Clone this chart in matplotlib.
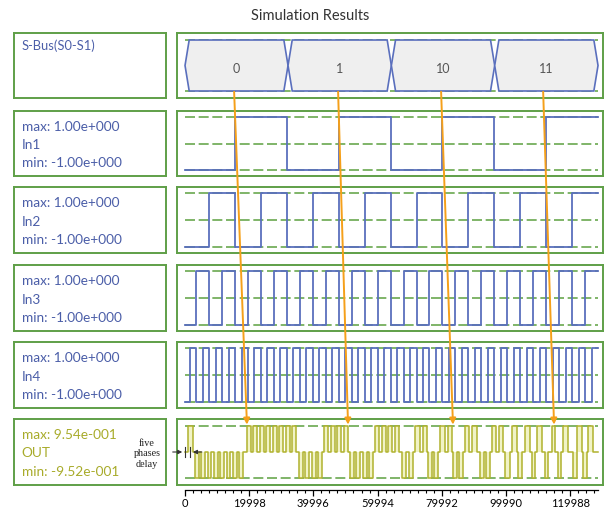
import matplotlib
matplotlib.use("Agg")
import matplotlib.pyplot as plt
from matplotlib.patches import Polygon, ConnectionPatch

# ---------------- data ----------------
title = "Simulation Results"
sbus_name = "S-Bus(S0-S1)"
sbus_values = ["0", "1", "10", "11"]
sbus_edges = [0, 32100, 64300, 96500, 128700]

in_names = ["In1", "In2", "In3", "In4"]
in_max = [1.00, 1.00, 1.00, 1.00]
in_min = [-1.00, -1.00, -1.00, -1.00]
in_half_periods = [16160, 8080, 4040, 2020]
in_phase = -580
t_end = 128700

out_name = "OUT"
out_max = 0.954
out_min = -0.952
out_top_groups = [(900, 2500), (19300, 34600), (43300, 50800), (59200, 66700),
                  (71700, 75400), (79500, 83200), (87200, 91000), (95700, 99100),
                  (101900, 103500), (105900, 107500), (109700, 111200),
                  (114400, 115300), (117800, 119300), (122100, 123700),
                  (125600, 127100)]
out_bottom_groups = [(3100, 18100), (35500, 42700), (51400, 58600),
                     (67600, 71000), (75700, 78800), (83500, 86600),
                     (91900, 95000), (99700, 101300), (103800, 105000),
                     (108100, 109100), (112200, 113100), (116200, 117200),
                     (120900, 122100), (124000, 125300)]
out_pulse_period = 1900
out_pulse_duty = 0.6

tick_values = [0, 19998, 39996, 59994, 79992, 99990, 119988]
tick_labels = ["0", "19998", "39996", "59994", "79992", "99990", "119988"]
minor_per_major = 8

arrow_from_t = [15300, 47700, 79800, 111600]
arrow_to_t = [19300, 50800, 83500, 115000]
delay_marks_t = [0, 1600]
delay_text = "five\nphases\ndelay"

# ---------------- layout ----------------
W, H = 605, 511
XMIN, XMAX = -2500, 130250
GREEN = "#5f9f47"
DGREEN = "#6aa84f"
BLUE = "#5a6fbd"
TBLUE = "#4b5ea8"
OLIVE = "#b0b22e"
TOLIVE = "#a8ab2a"
ORANGE = "#f5a01a"
FONT = "Lato"
LFS = 9.8

rows = [(33, 98), (111, 176), (187, 253), (265, 331), (342, 408), (419, 485)]
LBX = (14, 166)
PBX = (177, 603)


def rect(x0, y0, x1, y1):
    return [x0 / W, 1 - y1 / H, (x1 - x0) / W, (y1 - y0) / H]


def fmt(v):
    m, e = f"{v:.2e}".split("e")
    return f"{m}e{e[0]}{int(e[1:]):03d}"


def boxify(ax):
    ax.set_xticks([])
    ax.set_yticks([])
    for s in ax.spines.values():
        s.set_color(GREEN)
        s.set_linewidth(1.4)


fig = plt.figure(figsize=(W / 100, H / 100), dpi=100)
fig.text(310 / W, 1 - 16 / H, title, ha="center", va="center",
         fontsize=10.5, color="#333333", family=FONT)

label_axes = []
plot_axes = []
for (y0, y1) in rows:
    la = fig.add_axes(rect(LBX[0], y0, LBX[1], y1))
    boxify(la)
    la.set_xlim(0, 1)
    la.set_ylim(0, 1)
    pa = fig.add_axes(rect(PBX[0], y0, PBX[1], y1))
    boxify(pa)
    pa.set_xlim(XMIN, XMAX)
    label_axes.append(la)
    plot_axes.append(pa)

# ---- S-Bus ----
la, pa = label_axes[0], plot_axes[0]
la.text(0.05, 0.8, sbus_name, color=TBLUE, fontsize=9.3, family=FONT,
        ha="left", va="center")
pa.set_ylim(-1.275, 1.275)
for lvl in (1, -1):
    pa.plot([0, t_end], [lvl, lvl], color=DGREEN, lw=1.2, ls=(0, (6, 2.2)), zorder=1)
s = 1300
for i, v in enumerate(sbus_values):
    a, b = sbus_edges[i], sbus_edges[i + 1]
    poly = Polygon([(a, 0), (a + s, 1), (b - s, 1), (b, 0), (b - s, -1), (a + s, -1)],
                   closed=True, facecolor="#efefef", edgecolor=BLUE, lw=1.2, zorder=2)
    pa.add_patch(poly)
    pa.text((a + b) / 2, -0.15, v, ha="center", va="center", fontsize=9,
            color="#555555", family=FONT, zorder=3)

# ---- inputs ----
for k in range(4):
    la, pa = label_axes[k + 1], plot_axes[k + 1]
    la.text(0.05, 0.76, "max: " + fmt(in_max[k]), color=TBLUE, fontsize=LFS,
            family=FONT, ha="left", va="center")
    la.text(0.05, 0.47, in_names[k], color=TBLUE, fontsize=LFS,
            family=FONT, ha="left", va="center")
    la.text(0.05, 0.2, "min: " + fmt(in_min[k]), color=TBLUE, fontsize=LFS,
            family=FONT, ha="left", va="center")
    pa.set_ylim(-1.226, 1.226)
    for lvl in (in_max[k], 0, in_min[k]):
        pa.plot([0, t_end], [lvl, lvl], color=DGREEN, lw=1.2, ls=(0, (6, 2.2)), zorder=1)
    hp = in_half_periods[k]
    times = [0]
    levels = [in_min[k]]
    t = in_phase + hp
    lvl = in_max[k]
    while t < t_end:
        times.append(t)
        levels.append(lvl)
        lvl = in_min[k] if lvl == in_max[k] else in_max[k]
        t += hp
    times.append(t_end)
    levels.append(levels[-1])
    pa.plot(times, levels, drawstyle="steps-post", color=BLUE, lw=1.3, zorder=2)

# ---- OUT ----
la, pa = label_axes[5], plot_axes[5]
la.text(0.05, 0.76, "max: " + fmt(out_max), color=TOLIVE, fontsize=LFS,
        family=FONT, ha="left", va="center")
la.text(0.05, 0.48, out_name, color=TOLIVE, fontsize=LFS,
        family=FONT, ha="left", va="center")
la.text(0.05, 0.2, "min: " + fmt(out_min), color=TOLIVE, fontsize=LFS,
        family=FONT, ha="left", va="center")
pa.set_ylim(-1.21, 1.21)
for lvl in (out_max, out_min):
    pa.plot([0, t_end], [lvl, lvl], color=DGREEN, lw=1.2, ls=(0, (6, 2.2)), zorder=1)

groups = [(a, b, out_max) for a, b in out_top_groups] + \
         [(a, b, out_min) for a, b in out_bottom_groups]
groups.sort()
times = [0]
levels = [0.0]
for a, b, lv in groups:
    n = max(1, int(round((b - a) / out_pulse_period)))
    if n == 1:
        times += [a, b]
        levels += [lv, 0.0]
    else:
        P = (b - a) / (n - 1 + out_pulse_duty)
        for i in range(n):
            ts = a + i * P
            times += [ts, ts + out_pulse_duty * P]
            levels += [lv, 0.0]
times.append(t_end)
levels.append(0.0)
pa.fill_between(times, 0, levels, step="post", color="#f1f3c6", lw=0, zorder=1.5)
pa.plot(times, levels, drawstyle="steps-post", color=OLIVE, lw=1.1, zorder=2)

# delay marker
for tm in delay_marks_t:
    pa.plot([tm, tm], [-0.2, 0.2], color="#333333", lw=0.8, zorder=4, clip_on=False)
pa.annotate("", xy=(delay_marks_t[0], 0), xytext=(delay_marks_t[0] - 4700, 0),
            arrowprops=dict(arrowstyle="-|>", color="#333333", lw=0.8,
                            mutation_scale=6), annotation_clip=False, zorder=4)
pa.annotate("", xy=(delay_marks_t[1], 0), xytext=(delay_marks_t[1] + 4500, 0),
            arrowprops=dict(arrowstyle="-|>", color="#333333", lw=0.8,
                            mutation_scale=6), annotation_clip=False, zorder=4)
fig.text(147 / W, 1 - 454 / H, delay_text, ha="center", va="center",
         fontsize=7.3, family="Liberation Serif", color="#222222", linespacing=1.15)

# ---- time axis ----
ax_t = fig.add_axes(rect(PBX[0], 486, PBX[1], 490))
ax_t.set_xlim(XMIN, XMAX)
ax_t.patch.set_visible(False)
for side in ("top", "left", "right"):
    ax_t.spines[side].set_visible(False)
ax_t.spines["bottom"].set_bounds(0, t_end)
ax_t.spines["bottom"].set_linewidth(0.9)
ax_t.set_yticks([])
ax_t.set_xticks(tick_values)
ax_t.set_xticklabels(tick_labels, family=FONT, fontsize=8)
minor_step = tick_values[1] / minor_per_major
minors = []
m = 0.0
while m <= t_end:
    minors.append(m)
    m += minor_step
ax_t.set_xticks(minors, minor=True)
ax_t.tick_params(axis="x", which="major", direction="out", length=4, width=0.9, pad=1.5)
ax_t.tick_params(axis="x", which="minor", direction="out", length=2.2, width=0.8)

# ---- orange arrows ----
sb, ob = plot_axes[0], plot_axes[5]
for a, b in zip(arrow_from_t, arrow_to_t):
    cp = ConnectionPatch(xyA=(a, -1.03), coordsA=sb.transData,
                         xyB=(b, out_max + 0.05), coordsB=ob.transData,
                         arrowstyle="-|>", color=ORANGE, lw=1.4,
                         mutation_scale=9, zorder=10)
    fig.add_artist(cp)

fig.savefig("out.png", dpi=100)
